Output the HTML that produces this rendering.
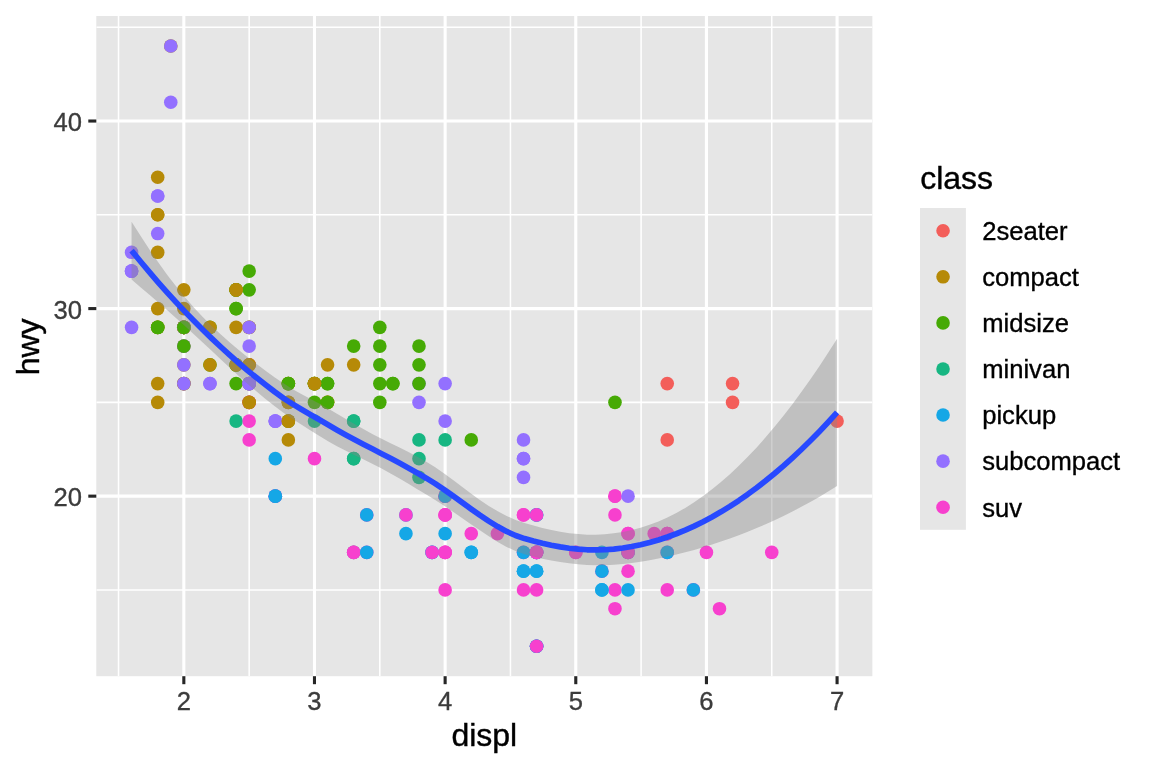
<!DOCTYPE html>
<html lang="en"><head><meta charset="utf-8"><title>hwy vs displ</title>
<style>html,body{margin:0;padding:0;background:#fff}svg{display:block}</style></head>
<body>
<svg width="1152" height="768" viewBox="0 0 1152 768">
<rect x="0" y="0" width="1152" height="768" fill="#FFFFFF"/>
<rect x="96.3" y="16.0" width="776.05" height="660.20" fill="#E6E6E6"/>
<clipPath id="pc"><rect x="96.3" y="16.0" width="776.05" height="660.20"/></clipPath>
<g clip-path="url(#pc)">
<g stroke="#FFFFFF" stroke-width="1.55" fill="none">
<line x1="96.3" x2="872.35" y1="589.92" y2="589.92"/>
<line x1="96.3" x2="872.35" y1="402.37" y2="402.37"/>
<line x1="96.3" x2="872.35" y1="214.81" y2="214.81"/>
<line x1="96.3" x2="872.35" y1="27.25" y2="27.25"/>
<line y1="16.0" y2="676.2" x1="118.51" x2="118.51"/>
<line y1="16.0" y2="676.2" x1="249.16" x2="249.16"/>
<line y1="16.0" y2="676.2" x1="379.81" x2="379.81"/>
<line y1="16.0" y2="676.2" x1="510.45" x2="510.45"/>
<line y1="16.0" y2="676.2" x1="641.10" x2="641.10"/>
<line y1="16.0" y2="676.2" x1="771.75" x2="771.75"/>
</g>
<g stroke="#FFFFFF" stroke-width="3.1" fill="none">
<line x1="96.3" x2="872.35" y1="496.15" y2="496.15"/>
<line x1="96.3" x2="872.35" y1="308.59" y2="308.59"/>
<line x1="96.3" x2="872.35" y1="121.03" y2="121.03"/>
<line y1="16.0" y2="676.2" x1="183.83" x2="183.83"/>
<line y1="16.0" y2="676.2" x1="314.48" x2="314.48"/>
<line y1="16.0" y2="676.2" x1="445.13" x2="445.13"/>
<line y1="16.0" y2="676.2" x1="575.78" x2="575.78"/>
<line y1="16.0" y2="676.2" x1="706.43" x2="706.43"/>
<line y1="16.0" y2="676.2" x1="837.08" x2="837.08"/>
</g>
<g stroke="none">
<circle cx="157.70" cy="327.34" r="6.8" fill="#B68A07"/>
<circle cx="157.70" cy="327.34" r="6.8" fill="#B68A07"/>
<circle cx="183.83" cy="289.83" r="6.8" fill="#B68A07"/>
<circle cx="183.83" cy="308.59" r="6.8" fill="#B68A07"/>
<circle cx="288.35" cy="383.61" r="6.8" fill="#B68A07"/>
<circle cx="288.35" cy="383.61" r="6.8" fill="#B68A07"/>
<circle cx="327.55" cy="364.86" r="6.8" fill="#B68A07"/>
<circle cx="157.70" cy="383.61" r="6.8" fill="#B68A07"/>
<circle cx="157.70" cy="402.37" r="6.8" fill="#B68A07"/>
<circle cx="183.83" cy="346.10" r="6.8" fill="#B68A07"/>
<circle cx="183.83" cy="364.86" r="6.8" fill="#B68A07"/>
<circle cx="288.35" cy="402.37" r="6.8" fill="#B68A07"/>
<circle cx="288.35" cy="402.37" r="6.8" fill="#B68A07"/>
<circle cx="327.55" cy="402.37" r="6.8" fill="#B68A07"/>
<circle cx="327.55" cy="402.37" r="6.8" fill="#B68A07"/>
<circle cx="288.35" cy="421.12" r="6.8" fill="#46AA05"/>
<circle cx="327.55" cy="402.37" r="6.8" fill="#46AA05"/>
<circle cx="471.26" cy="439.88" r="6.8" fill="#46AA05"/>
<circle cx="614.97" cy="496.15" r="6.8" fill="#F740CE"/>
<circle cx="614.97" cy="589.92" r="6.8" fill="#F740CE"/>
<circle cx="614.97" cy="496.15" r="6.8" fill="#F740CE"/>
<circle cx="667.23" cy="552.41" r="6.8" fill="#F740CE"/>
<circle cx="706.43" cy="552.41" r="6.8" fill="#F740CE"/>
<circle cx="667.23" cy="383.61" r="6.8" fill="#F35E5A"/>
<circle cx="667.23" cy="439.88" r="6.8" fill="#F35E5A"/>
<circle cx="732.56" cy="383.61" r="6.8" fill="#F35E5A"/>
<circle cx="732.56" cy="402.37" r="6.8" fill="#F35E5A"/>
<circle cx="837.08" cy="421.12" r="6.8" fill="#F35E5A"/>
<circle cx="614.97" cy="514.90" r="6.8" fill="#F740CE"/>
<circle cx="614.97" cy="608.68" r="6.8" fill="#F740CE"/>
<circle cx="667.23" cy="589.92" r="6.8" fill="#F740CE"/>
<circle cx="771.75" cy="552.41" r="6.8" fill="#F740CE"/>
<circle cx="236.09" cy="364.86" r="6.8" fill="#46AA05"/>
<circle cx="236.09" cy="308.59" r="6.8" fill="#46AA05"/>
<circle cx="327.55" cy="383.61" r="6.8" fill="#46AA05"/>
<circle cx="379.81" cy="327.34" r="6.8" fill="#46AA05"/>
<circle cx="392.87" cy="383.61" r="6.8" fill="#46AA05"/>
<circle cx="236.09" cy="421.12" r="6.8" fill="#17B682"/>
<circle cx="314.48" cy="421.12" r="6.8" fill="#17B682"/>
<circle cx="353.68" cy="458.63" r="6.8" fill="#17B682"/>
<circle cx="353.68" cy="458.63" r="6.8" fill="#17B682"/>
<circle cx="353.68" cy="421.12" r="6.8" fill="#17B682"/>
<circle cx="353.68" cy="421.12" r="6.8" fill="#17B682"/>
<circle cx="353.68" cy="552.41" r="6.8" fill="#17B682"/>
<circle cx="419.00" cy="458.63" r="6.8" fill="#17B682"/>
<circle cx="419.00" cy="477.39" r="6.8" fill="#17B682"/>
<circle cx="419.00" cy="439.88" r="6.8" fill="#17B682"/>
<circle cx="445.13" cy="439.88" r="6.8" fill="#17B682"/>
<circle cx="405.94" cy="514.90" r="6.8" fill="#15A7E6"/>
<circle cx="405.94" cy="533.66" r="6.8" fill="#15A7E6"/>
<circle cx="432.07" cy="552.41" r="6.8" fill="#15A7E6"/>
<circle cx="432.07" cy="552.41" r="6.8" fill="#15A7E6"/>
<circle cx="536.58" cy="514.90" r="6.8" fill="#15A7E6"/>
<circle cx="536.58" cy="514.90" r="6.8" fill="#15A7E6"/>
<circle cx="536.58" cy="646.19" r="6.8" fill="#15A7E6"/>
<circle cx="601.91" cy="552.41" r="6.8" fill="#15A7E6"/>
<circle cx="601.91" cy="589.92" r="6.8" fill="#15A7E6"/>
<circle cx="432.07" cy="552.41" r="6.8" fill="#F740CE"/>
<circle cx="536.58" cy="552.41" r="6.8" fill="#F740CE"/>
<circle cx="536.58" cy="646.19" r="6.8" fill="#F740CE"/>
<circle cx="536.58" cy="552.41" r="6.8" fill="#F740CE"/>
<circle cx="601.91" cy="571.17" r="6.8" fill="#F740CE"/>
<circle cx="667.23" cy="533.66" r="6.8" fill="#F740CE"/>
<circle cx="693.36" cy="589.92" r="6.8" fill="#F740CE"/>
<circle cx="536.58" cy="571.17" r="6.8" fill="#15A7E6"/>
<circle cx="536.58" cy="646.19" r="6.8" fill="#15A7E6"/>
<circle cx="536.58" cy="552.41" r="6.8" fill="#15A7E6"/>
<circle cx="536.58" cy="552.41" r="6.8" fill="#15A7E6"/>
<circle cx="536.58" cy="571.17" r="6.8" fill="#15A7E6"/>
<circle cx="536.58" cy="646.19" r="6.8" fill="#15A7E6"/>
<circle cx="601.91" cy="589.92" r="6.8" fill="#15A7E6"/>
<circle cx="601.91" cy="571.17" r="6.8" fill="#15A7E6"/>
<circle cx="667.23" cy="552.41" r="6.8" fill="#15A7E6"/>
<circle cx="693.36" cy="589.92" r="6.8" fill="#15A7E6"/>
<circle cx="523.52" cy="552.41" r="6.8" fill="#F740CE"/>
<circle cx="628.04" cy="552.41" r="6.8" fill="#F740CE"/>
<circle cx="628.04" cy="533.66" r="6.8" fill="#F740CE"/>
<circle cx="445.13" cy="552.41" r="6.8" fill="#F740CE"/>
<circle cx="445.13" cy="514.90" r="6.8" fill="#F740CE"/>
<circle cx="445.13" cy="552.41" r="6.8" fill="#F740CE"/>
<circle cx="445.13" cy="514.90" r="6.8" fill="#F740CE"/>
<circle cx="523.52" cy="514.90" r="6.8" fill="#F740CE"/>
<circle cx="575.78" cy="552.41" r="6.8" fill="#F740CE"/>
<circle cx="471.26" cy="552.41" r="6.8" fill="#15A7E6"/>
<circle cx="471.26" cy="552.41" r="6.8" fill="#15A7E6"/>
<circle cx="523.52" cy="571.17" r="6.8" fill="#15A7E6"/>
<circle cx="523.52" cy="571.17" r="6.8" fill="#15A7E6"/>
<circle cx="523.52" cy="552.41" r="6.8" fill="#15A7E6"/>
<circle cx="628.04" cy="589.92" r="6.8" fill="#15A7E6"/>
<circle cx="628.04" cy="552.41" r="6.8" fill="#15A7E6"/>
<circle cx="419.00" cy="383.61" r="6.8" fill="#9370FF"/>
<circle cx="419.00" cy="402.37" r="6.8" fill="#9370FF"/>
<circle cx="445.13" cy="383.61" r="6.8" fill="#9370FF"/>
<circle cx="445.13" cy="421.12" r="6.8" fill="#9370FF"/>
<circle cx="523.52" cy="477.39" r="6.8" fill="#9370FF"/>
<circle cx="523.52" cy="458.63" r="6.8" fill="#9370FF"/>
<circle cx="523.52" cy="439.88" r="6.8" fill="#9370FF"/>
<circle cx="523.52" cy="458.63" r="6.8" fill="#9370FF"/>
<circle cx="628.04" cy="496.15" r="6.8" fill="#9370FF"/>
<circle cx="131.58" cy="252.32" r="6.8" fill="#9370FF"/>
<circle cx="131.58" cy="271.08" r="6.8" fill="#9370FF"/>
<circle cx="131.58" cy="271.08" r="6.8" fill="#9370FF"/>
<circle cx="131.58" cy="327.34" r="6.8" fill="#9370FF"/>
<circle cx="131.58" cy="271.08" r="6.8" fill="#9370FF"/>
<circle cx="157.70" cy="233.57" r="6.8" fill="#9370FF"/>
<circle cx="157.70" cy="196.05" r="6.8" fill="#9370FF"/>
<circle cx="157.70" cy="196.05" r="6.8" fill="#9370FF"/>
<circle cx="183.83" cy="327.34" r="6.8" fill="#9370FF"/>
<circle cx="236.09" cy="383.61" r="6.8" fill="#46AA05"/>
<circle cx="236.09" cy="364.86" r="6.8" fill="#46AA05"/>
<circle cx="236.09" cy="308.59" r="6.8" fill="#46AA05"/>
<circle cx="236.09" cy="289.83" r="6.8" fill="#46AA05"/>
<circle cx="249.16" cy="383.61" r="6.8" fill="#46AA05"/>
<circle cx="249.16" cy="383.61" r="6.8" fill="#46AA05"/>
<circle cx="353.68" cy="346.10" r="6.8" fill="#46AA05"/>
<circle cx="183.83" cy="383.61" r="6.8" fill="#9370FF"/>
<circle cx="183.83" cy="327.34" r="6.8" fill="#9370FF"/>
<circle cx="183.83" cy="346.10" r="6.8" fill="#9370FF"/>
<circle cx="183.83" cy="364.86" r="6.8" fill="#9370FF"/>
<circle cx="275.29" cy="421.12" r="6.8" fill="#9370FF"/>
<circle cx="275.29" cy="421.12" r="6.8" fill="#9370FF"/>
<circle cx="275.29" cy="421.12" r="6.8" fill="#9370FF"/>
<circle cx="314.48" cy="458.63" r="6.8" fill="#F740CE"/>
<circle cx="405.94" cy="514.90" r="6.8" fill="#F740CE"/>
<circle cx="445.13" cy="496.15" r="6.8" fill="#F740CE"/>
<circle cx="536.58" cy="552.41" r="6.8" fill="#F740CE"/>
<circle cx="536.58" cy="646.19" r="6.8" fill="#F740CE"/>
<circle cx="536.58" cy="514.90" r="6.8" fill="#F740CE"/>
<circle cx="667.23" cy="533.66" r="6.8" fill="#F740CE"/>
<circle cx="719.49" cy="608.68" r="6.8" fill="#F740CE"/>
<circle cx="445.13" cy="589.92" r="6.8" fill="#F740CE"/>
<circle cx="471.26" cy="533.66" r="6.8" fill="#F740CE"/>
<circle cx="497.39" cy="533.66" r="6.8" fill="#F740CE"/>
<circle cx="523.52" cy="589.92" r="6.8" fill="#F740CE"/>
<circle cx="628.04" cy="552.41" r="6.8" fill="#F740CE"/>
<circle cx="628.04" cy="571.17" r="6.8" fill="#F740CE"/>
<circle cx="628.04" cy="533.66" r="6.8" fill="#F740CE"/>
<circle cx="445.13" cy="552.41" r="6.8" fill="#F740CE"/>
<circle cx="445.13" cy="514.90" r="6.8" fill="#F740CE"/>
<circle cx="523.52" cy="514.90" r="6.8" fill="#F740CE"/>
<circle cx="575.78" cy="552.41" r="6.8" fill="#F740CE"/>
<circle cx="236.09" cy="327.34" r="6.8" fill="#B68A07"/>
<circle cx="236.09" cy="364.86" r="6.8" fill="#B68A07"/>
<circle cx="249.16" cy="289.83" r="6.8" fill="#46AA05"/>
<circle cx="249.16" cy="271.08" r="6.8" fill="#46AA05"/>
<circle cx="379.81" cy="364.86" r="6.8" fill="#46AA05"/>
<circle cx="379.81" cy="383.61" r="6.8" fill="#46AA05"/>
<circle cx="314.48" cy="383.61" r="6.8" fill="#46AA05"/>
<circle cx="314.48" cy="402.37" r="6.8" fill="#46AA05"/>
<circle cx="379.81" cy="402.37" r="6.8" fill="#46AA05"/>
<circle cx="353.68" cy="552.41" r="6.8" fill="#F740CE"/>
<circle cx="353.68" cy="552.41" r="6.8" fill="#F740CE"/>
<circle cx="445.13" cy="496.15" r="6.8" fill="#F740CE"/>
<circle cx="654.17" cy="533.66" r="6.8" fill="#F740CE"/>
<circle cx="327.55" cy="383.61" r="6.8" fill="#46AA05"/>
<circle cx="419.00" cy="383.61" r="6.8" fill="#46AA05"/>
<circle cx="419.00" cy="364.86" r="6.8" fill="#46AA05"/>
<circle cx="419.00" cy="346.10" r="6.8" fill="#46AA05"/>
<circle cx="614.97" cy="402.37" r="6.8" fill="#46AA05"/>
<circle cx="249.16" cy="402.37" r="6.8" fill="#F740CE"/>
<circle cx="249.16" cy="421.12" r="6.8" fill="#F740CE"/>
<circle cx="249.16" cy="364.86" r="6.8" fill="#F740CE"/>
<circle cx="249.16" cy="402.37" r="6.8" fill="#F740CE"/>
<circle cx="249.16" cy="383.61" r="6.8" fill="#F740CE"/>
<circle cx="249.16" cy="439.88" r="6.8" fill="#F740CE"/>
<circle cx="209.96" cy="383.61" r="6.8" fill="#9370FF"/>
<circle cx="209.96" cy="383.61" r="6.8" fill="#9370FF"/>
<circle cx="249.16" cy="383.61" r="6.8" fill="#9370FF"/>
<circle cx="249.16" cy="383.61" r="6.8" fill="#9370FF"/>
<circle cx="249.16" cy="402.37" r="6.8" fill="#B68A07"/>
<circle cx="249.16" cy="364.86" r="6.8" fill="#B68A07"/>
<circle cx="249.16" cy="402.37" r="6.8" fill="#B68A07"/>
<circle cx="249.16" cy="364.86" r="6.8" fill="#B68A07"/>
<circle cx="275.29" cy="496.15" r="6.8" fill="#F740CE"/>
<circle cx="275.29" cy="496.15" r="6.8" fill="#F740CE"/>
<circle cx="366.74" cy="514.90" r="6.8" fill="#F740CE"/>
<circle cx="366.74" cy="552.41" r="6.8" fill="#F740CE"/>
<circle cx="445.13" cy="496.15" r="6.8" fill="#F740CE"/>
<circle cx="536.58" cy="552.41" r="6.8" fill="#F740CE"/>
<circle cx="209.96" cy="327.34" r="6.8" fill="#46AA05"/>
<circle cx="209.96" cy="364.86" r="6.8" fill="#46AA05"/>
<circle cx="236.09" cy="289.83" r="6.8" fill="#46AA05"/>
<circle cx="236.09" cy="289.83" r="6.8" fill="#46AA05"/>
<circle cx="314.48" cy="383.61" r="6.8" fill="#46AA05"/>
<circle cx="314.48" cy="383.61" r="6.8" fill="#46AA05"/>
<circle cx="379.81" cy="346.10" r="6.8" fill="#46AA05"/>
<circle cx="209.96" cy="364.86" r="6.8" fill="#B68A07"/>
<circle cx="209.96" cy="327.34" r="6.8" fill="#B68A07"/>
<circle cx="236.09" cy="289.83" r="6.8" fill="#B68A07"/>
<circle cx="236.09" cy="289.83" r="6.8" fill="#B68A07"/>
<circle cx="314.48" cy="383.61" r="6.8" fill="#B68A07"/>
<circle cx="314.48" cy="383.61" r="6.8" fill="#B68A07"/>
<circle cx="353.68" cy="364.86" r="6.8" fill="#B68A07"/>
<circle cx="157.70" cy="308.59" r="6.8" fill="#B68A07"/>
<circle cx="157.70" cy="252.32" r="6.8" fill="#B68A07"/>
<circle cx="157.70" cy="214.81" r="6.8" fill="#B68A07"/>
<circle cx="157.70" cy="177.30" r="6.8" fill="#B68A07"/>
<circle cx="157.70" cy="214.81" r="6.8" fill="#B68A07"/>
<circle cx="536.58" cy="589.92" r="6.8" fill="#F740CE"/>
<circle cx="667.23" cy="533.66" r="6.8" fill="#F740CE"/>
<circle cx="275.29" cy="496.15" r="6.8" fill="#15A7E6"/>
<circle cx="275.29" cy="496.15" r="6.8" fill="#15A7E6"/>
<circle cx="275.29" cy="458.63" r="6.8" fill="#15A7E6"/>
<circle cx="366.74" cy="552.41" r="6.8" fill="#15A7E6"/>
<circle cx="366.74" cy="514.90" r="6.8" fill="#15A7E6"/>
<circle cx="445.13" cy="533.66" r="6.8" fill="#15A7E6"/>
<circle cx="445.13" cy="496.15" r="6.8" fill="#15A7E6"/>
<circle cx="183.83" cy="327.34" r="6.8" fill="#B68A07"/>
<circle cx="183.83" cy="383.61" r="6.8" fill="#B68A07"/>
<circle cx="183.83" cy="327.34" r="6.8" fill="#B68A07"/>
<circle cx="183.83" cy="327.34" r="6.8" fill="#B68A07"/>
<circle cx="288.35" cy="421.12" r="6.8" fill="#B68A07"/>
<circle cx="170.77" cy="46.01" r="6.8" fill="#B68A07"/>
<circle cx="183.83" cy="327.34" r="6.8" fill="#B68A07"/>
<circle cx="183.83" cy="383.61" r="6.8" fill="#B68A07"/>
<circle cx="183.83" cy="327.34" r="6.8" fill="#B68A07"/>
<circle cx="183.83" cy="327.34" r="6.8" fill="#B68A07"/>
<circle cx="249.16" cy="327.34" r="6.8" fill="#B68A07"/>
<circle cx="249.16" cy="327.34" r="6.8" fill="#B68A07"/>
<circle cx="288.35" cy="439.88" r="6.8" fill="#B68A07"/>
<circle cx="288.35" cy="421.12" r="6.8" fill="#B68A07"/>
<circle cx="170.77" cy="46.01" r="6.8" fill="#9370FF"/>
<circle cx="170.77" cy="102.28" r="6.8" fill="#9370FF"/>
<circle cx="183.83" cy="327.34" r="6.8" fill="#9370FF"/>
<circle cx="183.83" cy="383.61" r="6.8" fill="#9370FF"/>
<circle cx="249.16" cy="346.10" r="6.8" fill="#9370FF"/>
<circle cx="249.16" cy="327.34" r="6.8" fill="#9370FF"/>
<circle cx="157.70" cy="327.34" r="6.8" fill="#46AA05"/>
<circle cx="157.70" cy="327.34" r="6.8" fill="#46AA05"/>
<circle cx="183.83" cy="346.10" r="6.8" fill="#46AA05"/>
<circle cx="183.83" cy="327.34" r="6.8" fill="#46AA05"/>
<circle cx="288.35" cy="383.61" r="6.8" fill="#46AA05"/>
<circle cx="288.35" cy="383.61" r="6.8" fill="#46AA05"/>
<circle cx="392.87" cy="383.61" r="6.8" fill="#46AA05"/>
</g>
<polygon points="131.58,221.65 140.51,235.86 149.44,249.51 158.37,262.54 167.30,274.89 176.23,286.52 185.16,297.46 194.09,307.70 203.02,317.24 211.95,326.16 220.88,334.53 229.81,342.45 238.74,349.99 247.67,357.18 256.60,364.06 265.53,370.71 274.46,377.19 283.39,383.37 292.32,388.96 301.25,394.02 310.18,398.72 319.11,403.38 328.04,408.42 336.97,413.75 345.90,419.06 354.83,424.27 363.76,429.33 372.70,434.17 381.63,438.79 390.56,443.24 399.49,447.61 408.42,452.05 417.35,456.71 426.28,461.74 435.21,467.31 444.14,473.50 453.07,480.09 462.00,486.85 470.93,493.54 479.86,499.94 488.79,505.89 497.72,511.26 506.65,515.96 515.58,519.90 524.51,523.00 533.44,525.62 542.37,527.99 551.30,530.07 560.23,531.81 569.16,533.16 578.09,534.11 587.02,534.63 595.95,534.68 604.89,534.27 613.82,533.36 622.75,531.95 631.68,530.07 640.61,527.69 649.54,524.81 658.47,521.40 667.40,517.45 676.33,512.94 685.26,507.88 694.19,502.26 703.12,496.08 712.05,489.34 720.98,482.04 729.91,474.19 738.84,465.79 747.77,456.85 756.70,447.38 765.63,437.37 774.56,426.84 783.49,415.78 792.42,404.20 801.35,392.11 810.28,379.50 819.21,366.38 828.14,352.76 837.08,338.64 837.08,486.06 828.14,491.59 819.21,496.90 810.28,501.99 801.35,506.86 792.42,511.52 783.49,515.98 774.56,520.23 765.63,524.28 756.70,528.12 747.77,531.78 738.84,535.24 729.91,538.52 720.98,541.62 712.05,544.55 703.12,547.30 694.19,549.88 685.26,552.29 676.33,554.53 667.40,556.60 658.47,558.49 649.54,560.20 640.61,561.69 631.68,562.97 622.75,564.01 613.82,564.78 604.89,565.21 595.95,565.25 587.02,564.93 578.09,564.28 569.16,563.30 560.23,562.04 551.30,560.49 542.37,558.66 533.44,556.55 524.51,554.16 515.58,551.11 506.65,546.96 497.72,541.96 488.79,536.34 479.86,530.33 470.93,524.14 462.00,517.91 453.07,511.77 444.14,505.80 435.21,500.08 426.28,494.61 417.35,489.16 408.42,483.78 399.49,478.51 390.56,473.43 381.63,468.57 372.70,463.96 363.76,459.53 354.83,455.18 345.90,450.77 336.97,446.14 328.04,441.13 319.11,435.75 310.18,430.22 301.25,424.60 292.32,418.85 283.39,412.77 274.46,406.07 265.53,398.93 256.60,391.57 247.67,383.94 238.74,376.01 229.81,367.80 220.88,359.47 211.95,351.11 203.02,342.76 194.09,334.49 185.16,326.32 176.23,318.28 167.30,310.37 158.37,302.55 149.44,294.81 140.51,287.13 131.58,279.51" fill="#878787" fill-opacity="0.4" stroke="none"/>
<polyline points="131.58,250.58 140.51,261.50 149.44,272.16 158.37,282.55 167.30,292.63 176.23,302.40 185.16,311.89 194.09,321.09 203.02,330.00 211.95,338.63 220.88,347.00 229.81,355.12 238.74,363.00 247.67,370.56 256.60,377.81 265.53,384.82 274.46,391.63 283.39,398.07 292.32,403.90 301.25,409.31 310.18,414.47 319.11,419.57 328.04,424.77 336.97,429.95 345.90,434.91 354.83,439.73 363.76,444.43 372.70,449.06 381.63,453.68 390.56,458.33 399.49,463.06 408.42,467.91 417.35,472.93 426.28,478.18 435.21,483.70 444.14,489.65 453.07,495.93 462.00,502.38 470.93,508.84 479.86,515.13 488.79,521.11 497.72,526.61 506.65,531.46 515.58,535.50 524.51,538.58 533.44,541.09 542.37,543.33 551.30,545.28 560.23,546.92 569.16,548.23 578.09,549.19 587.02,549.78 595.95,549.97 604.89,549.74 613.82,549.07 622.75,547.98 631.68,546.52 640.61,544.69 649.54,542.50 658.47,539.95 667.40,537.02 676.33,533.74 685.26,530.09 694.19,526.07 703.12,521.69 712.05,516.94 720.98,511.83 729.91,506.36 738.84,500.52 747.77,494.32 756.70,487.75 765.63,480.82 774.56,473.53 783.49,465.88 792.42,457.86 801.35,449.48 810.28,440.74 819.21,431.64 828.14,422.18 837.08,412.35" fill="none" stroke="#2749FF" stroke-width="5.7" stroke-linejoin="round" stroke-linecap="butt"/>
</g>
<g stroke="#262626" stroke-width="3.1" fill="none">
<line x1="88.30" x2="96.3" y1="496.15" y2="496.15"/>
<line x1="88.30" x2="96.3" y1="308.59" y2="308.59"/>
<line x1="88.30" x2="96.3" y1="121.03" y2="121.03"/>
<line y1="676.2" y2="684.20" x1="183.83" x2="183.83"/>
<line y1="676.2" y2="684.20" x1="314.48" x2="314.48"/>
<line y1="676.2" y2="684.20" x1="445.13" x2="445.13"/>
<line y1="676.2" y2="684.20" x1="575.78" x2="575.78"/>
<line y1="676.2" y2="684.20" x1="706.43" x2="706.43"/>
<line y1="676.2" y2="684.20" x1="837.08" x2="837.08"/>
</g>
<g font-family="'Liberation Sans', Arial, Helvetica, sans-serif" font-size="25.6" fill="#3C3C3C" stroke="#3C3C3C" stroke-width="0.35">
<text x="81.90" y="506.15" text-anchor="end">20</text>
<text x="81.90" y="318.59" text-anchor="end">30</text>
<text x="81.90" y="131.03" text-anchor="end">40</text>
<text x="183.83" y="709.60" text-anchor="middle">2</text>
<text x="314.48" y="709.60" text-anchor="middle">3</text>
<text x="445.13" y="709.60" text-anchor="middle">4</text>
<text x="575.78" y="709.60" text-anchor="middle">5</text>
<text x="706.43" y="709.60" text-anchor="middle">6</text>
<text x="837.08" y="709.60" text-anchor="middle">7</text>
</g>
<g font-family="'Liberation Sans', Arial, Helvetica, sans-serif" font-size="32" fill="#000000" stroke="#000000" stroke-width="0.4">
<text x="484.32" y="746" text-anchor="middle">displ</text>
<text transform="translate(39.2,346.90) rotate(-90)" text-anchor="middle">hwy</text>
<text x="920.2" y="188.9">class</text>
</g>
<rect x="920" y="208" width="45.9" height="321.8" fill="#E6E6E6"/>
<g font-family="'Liberation Sans', Arial, Helvetica, sans-serif" font-size="25.6" fill="#000000" stroke="#000000" stroke-width="0.35">
<circle cx="943.04" cy="230.74" r="6.8" fill="#F35E5A" stroke="none"/>
<text x="982.18" y="240.04">2seater</text>
<circle cx="943.04" cy="276.82" r="6.8" fill="#B68A07" stroke="none"/>
<text x="982.18" y="286.12">compact</text>
<circle cx="943.04" cy="322.90" r="6.8" fill="#46AA05" stroke="none"/>
<text x="982.18" y="332.20">midsize</text>
<circle cx="943.04" cy="368.98" r="6.8" fill="#17B682" stroke="none"/>
<text x="982.18" y="378.28">minivan</text>
<circle cx="943.04" cy="415.06" r="6.8" fill="#15A7E6" stroke="none"/>
<text x="982.18" y="424.36">pickup</text>
<circle cx="943.04" cy="461.14" r="6.8" fill="#9370FF" stroke="none"/>
<text x="982.18" y="470.44">subcompact</text>
<circle cx="943.04" cy="507.22" r="6.8" fill="#F740CE" stroke="none"/>
<text x="982.18" y="516.52">suv</text>
</g>
</svg>
</body></html>
